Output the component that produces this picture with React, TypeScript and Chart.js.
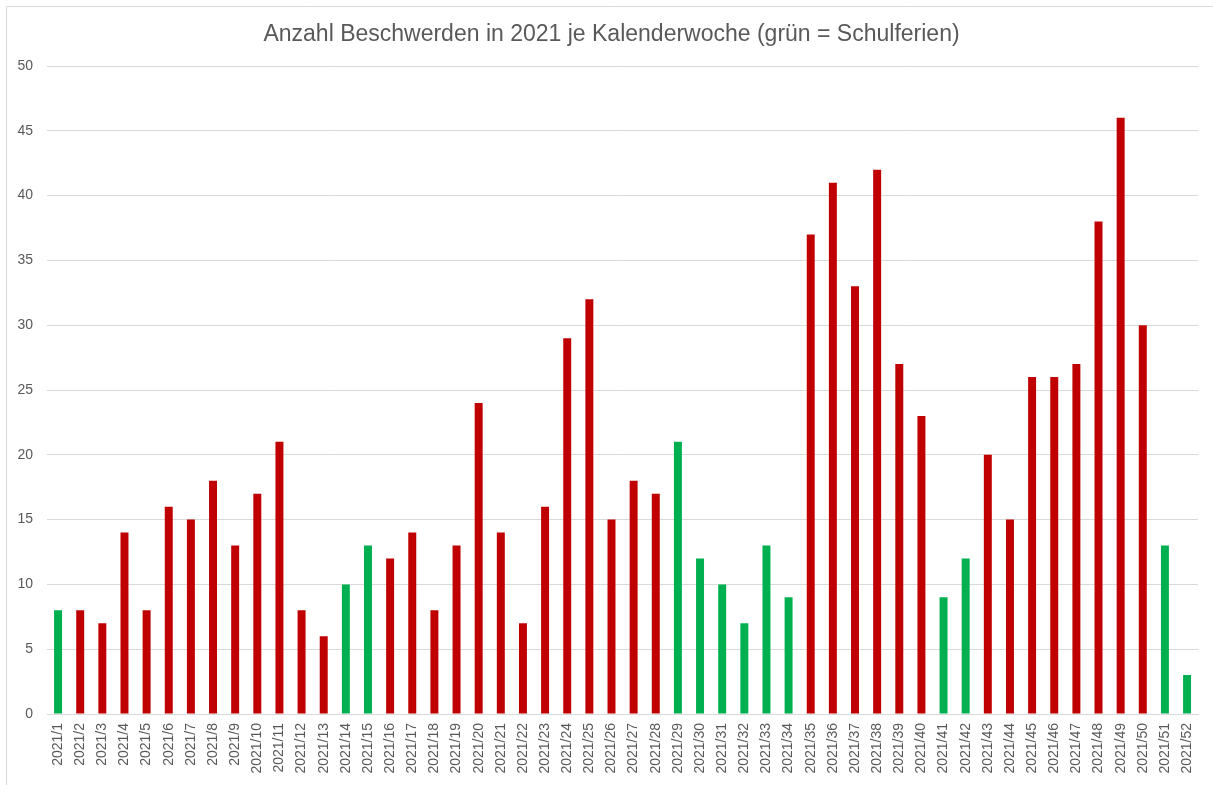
import React, { useEffect, useRef } from "react";
import { Chart, registerables } from "chart.js";

Chart.register(...registerables);

const weeks: string[] = Array.from({ length: 52 }, (_, i) => `2021/${i + 1}`);

const complaints: number[] = [
  8, 8, 7, 14, 8, 16, 15, 18, 13, 17,
  21, 8, 6, 10, 13, 12, 14, 8, 13, 24,
  14, 7, 16, 29, 32, 15, 18, 17, 21, 12,
  10, 7, 13, 9, 37, 41, 33, 42, 27, 23,
  9, 12, 20, 15, 26, 26, 27, 38, 46, 30,
  13, 3,
];

const holidayWeeks: number[] = [1, 14, 15, 29, 30, 31, 32, 33, 34, 41, 42, 51, 52];

const RED = "#C00000";
const GREEN = "#00B050";
const TEXT = "#595959";
const GRID = "#D9D9D9";

const frame = {
  id: "frame",
  afterLayout(chart: any) {
    const t = chart.titleBlock;
    if (t) {
      t.left = 24;
      t.right = chart.width - 14;
    }
  },
  beforeDraw(chart: any) {
    const ctx = chart.ctx;
    ctx.save();
    ctx.fillStyle = "#ffffff";
    ctx.fillRect(0, 0, chart.width, chart.height);
    ctx.strokeStyle = GRID;
    ctx.lineWidth = 1;
    ctx.beginPath();
    ctx.moveTo(6.5, chart.height);
    ctx.lineTo(6.5, 6.5);
    ctx.lineTo(chart.width, 6.5);
    ctx.stroke();
    ctx.restore();
  },
};

export default function App() {
  const ref = useRef<HTMLCanvasElement>(null);
  useEffect(() => {
    if (!ref.current) return;
    const colors = weeks.map((_, i) => (holidayWeeks.includes(i + 1) ? GREEN : RED));
    const chart = new Chart(ref.current, {
      type: "bar",
      data: {
        labels: weeks,
        datasets: [
          {
            data: complaints,
            backgroundColor: colors,
            borderWidth: 0,
            categoryPercentage: 1,
            barPercentage: 0.36,
          },
        ],
      },
      plugins: [frame],
      options: {
        animation: false,
        responsive: false,
        devicePixelRatio: 1,
        layout: { padding: { left: 0, right: 14, top: 0, bottom: 0 } },
        plugins: {
          legend: { display: false },
          tooltip: { enabled: false },
          title: {
            display: true,
            text: "Anzahl Beschwerden in 2021 je Kalenderwoche (grün = Schulferien)",
            color: TEXT,
            font: { family: "'Liberation Sans', Arial, sans-serif", size: 23, weight: "normal" },
            padding: { top: 21, bottom: 17.4 },
          },
        },
        scales: {
          x: {
            grid: { display: false, drawTicks: false },
            border: { display: true, color: GRID, width: 1 },
            ticks: {
              color: TEXT,
              font: { family: "'Liberation Sans', Arial, sans-serif", size: 14 },
              minRotation: 90,
              maxRotation: 90,
              autoSkip: false,
              padding: 9,
            },
            afterFit(scale: any) {
              scale.height = 71;
            },
          },
          y: {
            min: 0,
            max: 50,
            grid: { color: GRID, drawTicks: false, lineWidth: 1 },
            border: { display: false },
            ticks: {
              stepSize: 5,
              color: TEXT,
              font: { family: "'Liberation Sans', Arial, sans-serif", size: 14 },
              padding: 14,
            },
            afterFit(scale: any) {
              scale.width = 47;
            },
          },
        },
      },
    });
    return () => chart.destroy();
  }, []);
  return (
    <div style={{ position: "absolute", left: 0, top: 0, width: 1213, height: 785 }}>
      <canvas ref={ref} width={1213} height={785} style={{ display: "block" }} />
    </div>
  );
}
